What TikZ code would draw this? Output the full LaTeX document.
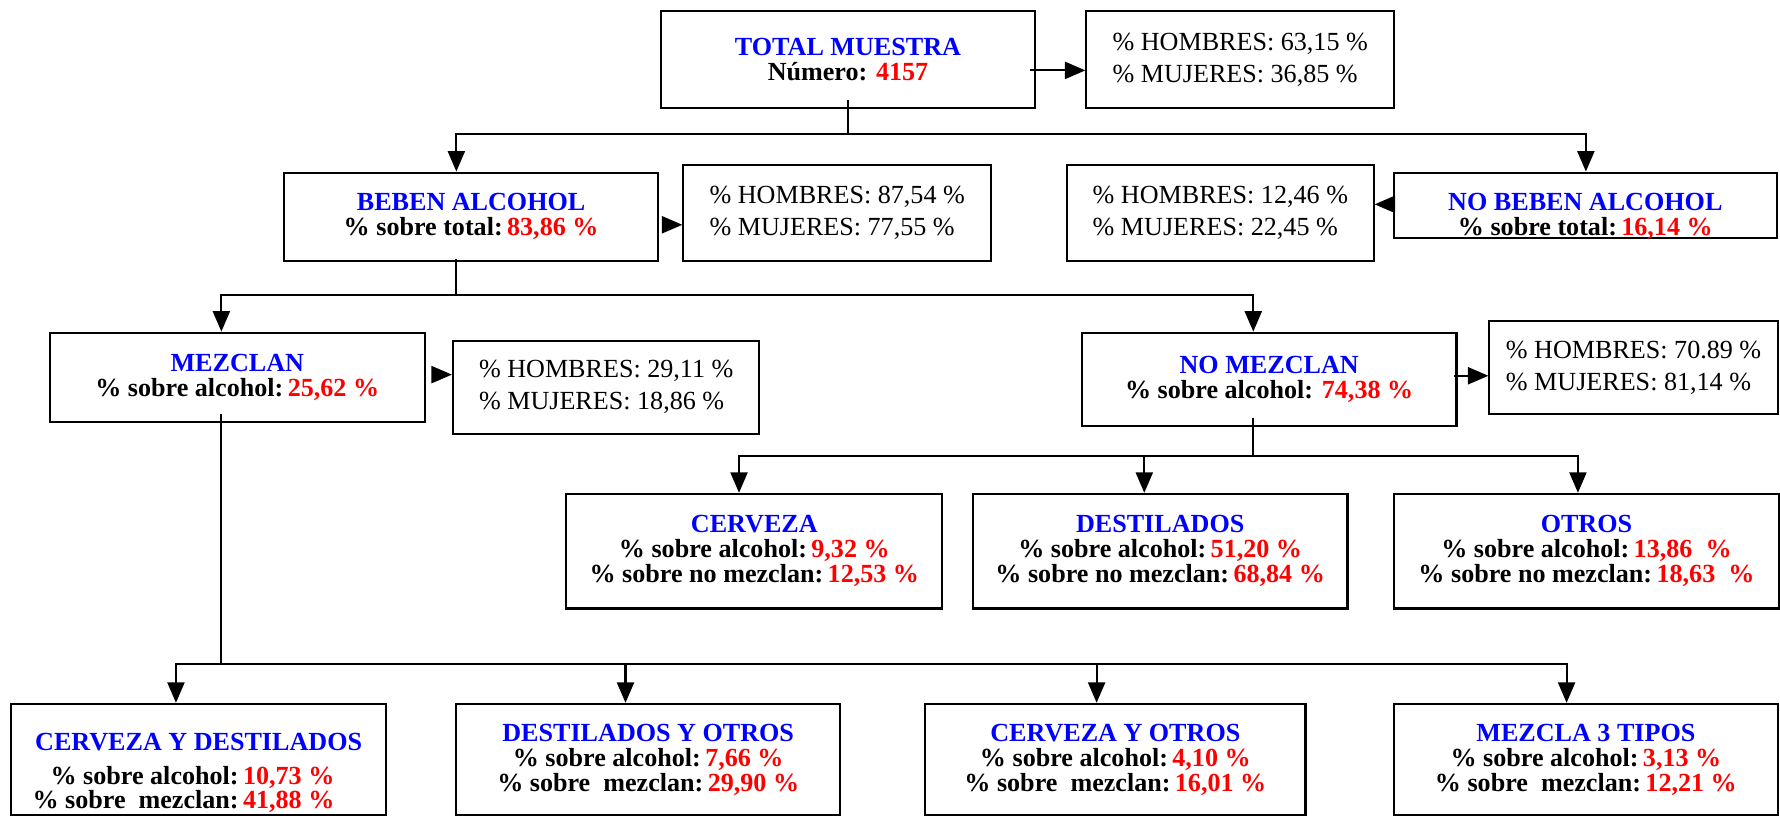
\documentclass[tikz,border=0pt]{standalone}
\usepackage{fontspec}
\setmainfont{Liberation Serif}
\usepackage{xcolor}
\usepackage{tikz}
\usetikzlibrary{calc}
\usetikzlibrary{arrows.meta}
\definecolor{titleblue}{RGB}{0,0,255}
\definecolor{valred}{RGB}{255,0,0}
\newcommand{\tit}[1]{\textcolor{titleblue}{#1}}
\newcommand{\val}[1]{\textcolor{valred}{#1}}
\tikzset{mainbox/.style={draw, line width=0.9pt, align=center, inner sep=2pt, font=\bfseries\fontsize{11.5}{11}\selectfont}}
\tikzset{sexbox/.style={draw, line width=0.9pt, align=left, inner sep=2pt, font=\fontsize{11.5}{14}\selectfont}}
\tikzset{plaintext/.style={inner sep=0pt, font=\bfseries\fontsize{11.5}{11}\selectfont}}
\tikzset{link/.style={line width=0.9pt}}
\tikzset{linkarrow/.style={line width=0.9pt, -{Triangle[length=9pt, width=7.5pt]}}}

\begin{document}
\begin{tikzpicture}[x=0.5pt, y=-0.5pt]
\useasboundingbox (0,0) rectangle (1568,720);

% first level
\node[mainbox, minimum width=165pt, minimum height=42.5pt] (total) at (747,52.5) {\tit{TOTAL MUESTRA}\\Número: \val{4157}};
\node[sexbox, minimum width=135.5pt, minimum height=42.5pt] (hom1) at (1092.5,52.5) {\% HOMBRES: 63,15 \%\\\% MUJERES: 36,85 \%};

% second level
\node[mainbox, minimum width=165pt, minimum height=39pt] (beben) at (415,191) {\tit{BEBEN ALCOHOL}\\\% sobre total:\,\val{83,86 \%}};
\node[sexbox, minimum width=135.5pt, minimum height=42.5pt] (hom2) at (737.5,187.5) {\% HOMBRES: 87,54 \%\\\% MUJERES: 77,55 \%};
\node[sexbox, minimum width=135pt, minimum height=42.5pt] (hom3) at (1075,187.5) {\% HOMBRES: 12,46 \%\\\% MUJERES: 22,45 \%};
\node[mainbox, minimum width=168.5pt, minimum height=29pt] (nobeben) at (1396.5,181) {};
\node[plaintext, align=center] (nobebentxt) at (1396.5,190.5) {\tit{NO BEBEN ALCOHOL}\\\% sobre total:\,\val{16,14 \%}};

% third level
\node[mainbox, minimum width=165pt, minimum height=39.5pt] (mezclan) at (209,332.5) {\tit{MEZCLAN}\\\% sobre alcohol:\,\val{25,62 \%}};
\node[sexbox, minimum width=135pt, minimum height=41pt] (hom4) at (534,341) {\% HOMBRES: 29,11 \%\\\% MUJERES: 18,86 \%};
\node[mainbox, minimum width=165pt, minimum height=41pt] (nomezclan) at (1118,334) {\tit{NO MEZCLAN}\\\% sobre alcohol: \val{74,38 \%}};
\node[sexbox, minimum width=127pt, minimum height=41pt] (hom5) at (1439,324) {\% HOMBRES: 70.89 \%\\\% MUJERES: 81,14 \%};

% no mezclan
\node[mainbox, minimum width=165.5pt, minimum height=50.5pt] (cerveza) at (664.5,485.5) {\tit{CERVEZA}\\\% sobre alcohol:\,\val{9,32 \%}\\\% sobre no mezclan:\,\val{12,53 \%}};
\node[mainbox, minimum width=165pt, minimum height=50.5pt] (destilados) at (1022,485.5) {\tit{DESTILADOS}\\\% sobre alcohol:\,\val{51,20 \%}\\\% sobre no mezclan:\,\val{68,84 \%}};
\node[mainbox, minimum width=169.5pt, minimum height=50.5pt] (otros) at (1397.5,485.5) {\tit{OTROS}\\\% sobre alcohol:\,\val{13,86~~\%}\\\% sobre no mezclan:\,\val{18,63~~\%}};

% mezclan
\node[mainbox, minimum width=165pt, minimum height=49pt] (cerdes) at (175,669) {};
\node[plaintext] (cerdestit) at (175,654) {\tit{CERVEZA Y DESTILADOS}};
\node[plaintext, align=right, anchor=east, font=\bfseries\fontsize{11.5}{7.5}\selectfont] (cerdesval) at (295,695.5) {\% sobre alcohol:\,\val{10,73 \%}\\\% sobre~~mezclan:\,\val{41,88 \%}};
\node[mainbox, minimum width=169pt, minimum height=49pt] (desotr) at (571,669) {\tit{DESTILADOS Y OTROS}\\\% sobre alcohol:\,\val{7,66 \%}\\\% sobre~~mezclan:\,\val{29,90 \%}};
\node[mainbox, minimum width=167.5pt, minimum height=49pt] (cerotr) at (982.5,669) {\tit{CERVEZA Y OTROS}\\\% sobre alcohol:\,\val{4,10 \%}\\\% sobre~~mezclan:\,\val{16,01 \%}};
\node[mainbox, minimum width=169pt, minimum height=49pt] (mez3) at (1397,669) {\tit{MEZCLA 3 TIPOS}\\\% sobre alcohol:\,\val{3,13 \%}\\\% sobre~~mezclan:\,\val{12,21 \%}};

% side arrows
\draw[linkarrow] ($(total.east)+(-6,9.5)$) -- ($(hom1.west)+(0,9.5)$);
\draw[linkarrow] ($(beben.east)+(3,7)$) -- ($(hom2.west)+(0,10.5)$);
\draw[linkarrow] ($(nobeben.west)+(0,-1)$) -- ($(hom3.east)+(0,-7.5)$);
\draw[linkarrow] ($(mezclan.east)+(6,-2.5)$) -- ($(hom4.west)+(0,-11)$);
\draw[linkarrow] ($(nomezclan.east)+(-3,-3)$) -- ($(hom5.west)+(0,7)$);

% tree from total
\coordinate (t0) at (747,88);
\coordinate (t1) at (747,118);
\coordinate (tl) at (402,118);
\coordinate (tr) at (1397,118);
\draw[link] (t0) -- (t1);
\draw[linkarrow] (t1) -- (tl) -- (tl |- beben.north);
\draw[linkarrow] (t1) -- (tr) -- (tr |- nobeben.north);

% tree from beben
\coordinate (b0) at (402,228);
\coordinate (b1) at (402,260);
\coordinate (bl) at (195,260);
\coordinate (br) at (1104,260);
\draw[link] (b0) -- (b1);
\draw[linkarrow] (b1) -- (bl) -- (bl |- mezclan.north);
\draw[linkarrow] (b1) -- (br) -- (br |- nomezclan.north);

% tree from no mezclan
\coordinate (n0) at (1104,368);
\coordinate (n1) at (1104,402);
\coordinate (nl) at (651,402);
\coordinate (nm) at (1008,402);
\coordinate (nr) at (1390,402);
\draw[link] (n0) -- (n1);
\draw[linkarrow] (n1) -- (nl) -- (nl |- cerveza.north);
\draw[linkarrow] (nm) -- (nm |- destilados.north);
\draw[linkarrow] (n1) -- (nr) -- (nr |- otros.north);

% tree from mezclan
\coordinate (m0) at (195,365);
\coordinate (m1) at (195,585);
\coordinate (ml) at (155,585);
\coordinate (m2) at (551,585);
\coordinate (m3) at (966,585);
\coordinate (mr) at (1380,585);
\draw[link] (m0) -- (m1);
\draw[linkarrow] (m1) -- (ml) -- (ml |- cerdes.north);
\draw[linkarrow] (m2) -- (m2 |- desotr.north);
\draw[linkarrow] (m3) -- (m3 |- cerotr.north);
\draw[linkarrow] (m1) -- (mr) -- (mr |- mez3.north);

\end{tikzpicture}
\end{document}
